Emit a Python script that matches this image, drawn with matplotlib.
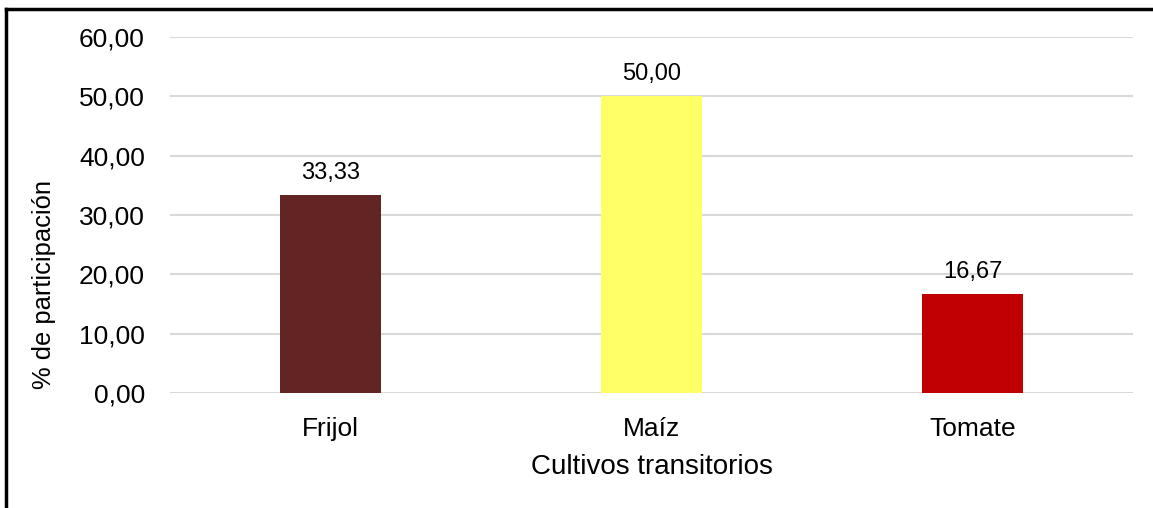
import matplotlib
matplotlib.use('Agg')
import matplotlib.pyplot as plt
from matplotlib.lines import Line2D

# data
categories = ['Frijol', 'Maíz', 'Tomate']
values = [33.33, 50.00, 16.67]
bar_colors = ['#632523', '#FFFF66', '#C00000']
y_ticks = [0, 10, 20, 30, 40, 50, 60]

plt.rcParams['font.family'] = ['Liberation Sans', 'DejaVu Sans']

fig = plt.figure(figsize=(11.53, 5.08), dpi=100)
ax = fig.add_axes([0.1474, 0.2264, 0.8353, 0.7008])

x = range(len(categories))
ax.bar(x, values, width=0.315, color=bar_colors, zorder=3)

def fmt(v):
    return f'{v:.2f}'.replace('.', ',')

for i, v in enumerate(values):
    ax.annotate(fmt(v), (i, v), xytext=(0, 8), textcoords='offset points',
                ha='center', va='bottom', fontsize=17, color='#000000')

ax.set_xlim(-0.5, len(categories) - 0.5)
ax.set_ylim(0, 60)
ax.set_yticks(y_ticks)
ax.set_yticklabels([fmt(t) for t in y_ticks], fontsize=19)
ax.set_xticks(list(x))
ax.set_xticklabels(categories, fontsize=19)
ax.tick_params(length=0)
ax.tick_params(axis='y', pad=18)
ax.tick_params(axis='x', pad=17)

ax.grid(axis='y', color='#D9D9D9', linewidth=1.5, zorder=0)
for s in ax.spines.values():
    s.set_visible(False)

ax.set_xlabel('Cultivos transitorios', fontsize=20, labelpad=10)
ax.set_ylabel('% de participación', fontsize=18.4, labelpad=14)
ax.yaxis.set_label_coords(-0.118, 0.306)

# outer frame (left and top edges)
fig.add_artist(Line2D([5.5 / 1153, 5.5 / 1153], [0, 1 - 9 / 508], color='black', linewidth=2.5))
fig.add_artist(Line2D([5.5 / 1153, 1], [1 - 9 / 508, 1 - 9 / 508], color='black', linewidth=2.5))

fig.savefig('out.png', dpi=100)
